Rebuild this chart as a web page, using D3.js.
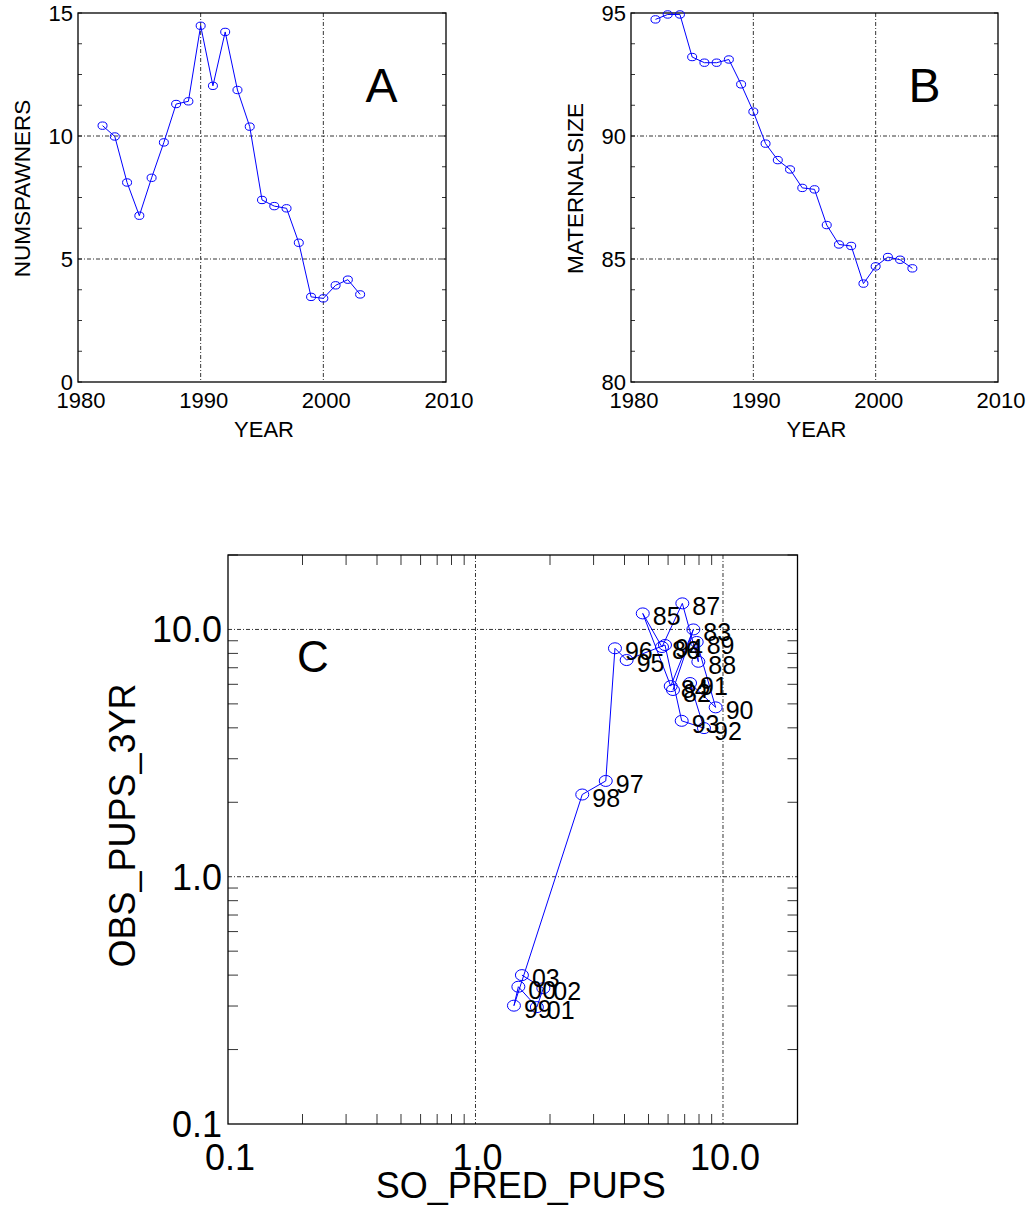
<!DOCTYPE html>
<html><head><meta charset="utf-8">
<script src="https://cdn.jsdelivr.net/npm/d3@7"></script>
<style>body{margin:0;background:#fff}svg{display:block}text{font-family:"Liberation Sans",Arial,Helvetica,sans-serif;fill:#000}</style>
</head><body><svg id="c" width="1032" height="1220"></svg>
<script>
// ---- data ----
const years = [1982,1983,1984,1985,1986,1987,1988,1989,1990,1991,1992,1993,1994,1995,1996,1997,1998,1999,2000,2001,2002,2003];
const numSpawners = [10.42,9.98,8.11,6.76,8.30,9.74,11.30,11.41,14.48,12.04,14.23,11.87,10.38,7.40,7.15,7.06,5.66,3.46,3.40,3.93,4.16,3.56];
const maternalSize = [94.74,94.94,94.94,93.21,92.98,92.98,93.11,92.10,90.99,89.69,89.02,88.64,87.89,87.83,86.38,85.59,85.53,84.00,84.70,85.08,84.97,84.62];
const soPredPups = [6.28,7.59,6.15,4.74,5.67,6.85,7.95,7.83,9.34,7.36,8.38,6.81,5.83,4.08,3.66,3.36,2.70,1.43,1.49,1.77,1.88,1.54];
const obsPups3yr = [5.69,10.0,5.90,11.61,8.49,12.75,7.40,8.90,4.84,6.07,3.99,4.27,8.65,7.52,8.39,2.44,2.15,0.301,0.359,0.297,0.354,0.40];
const yearTicks = [1980,1990,2000,2010];
const spawnerTicks = [0,5,10,15];
const sizeTicks = [80,85,90,95];
const logTicks = [0.1,1,10];
const logTickLabels = ["0.1","1.0","10.0"];

const svg = d3.select("#c");
const blue = "#0000ff";
const gridDash = "4,2,1,2";

function linearPanel(o){
  const g = svg.append("g");
  const x = d3.scaleLinear().domain([1980,2010]).range([o.left,o.left+o.w]);
  const y = d3.scaleLinear().domain(o.ydom).range([o.top+o.h,o.top]);
  yearTicks.slice(1,-1).forEach(t=>g.append("line").attr("x1",x(t)).attr("x2",x(t)).attr("y1",o.top).attr("y2",o.top+o.h)
    .attr("stroke","#000").attr("stroke-width",0.8).attr("stroke-dasharray",gridDash));
  o.yt.slice(1,-1).forEach(t=>g.append("line").attr("x1",o.left).attr("x2",o.left+o.w).attr("y1",y(t)).attr("y2",y(t))
    .attr("stroke","#000").attr("stroke-width",0.8).attr("stroke-dasharray",gridDash));
  const step=(o.yt[1]-o.yt[0])/4;
  d3.range(o.ydom[0],o.ydom[1]+0.001,step).forEach(t=>{
    g.append("line").attr("x1",o.left).attr("x2",o.left+4).attr("y1",y(t)).attr("y2",y(t)).attr("stroke","#000").attr("stroke-width",0.8);
    g.append("line").attr("x1",o.left+o.w).attr("x2",o.left+o.w-4).attr("y1",y(t)).attr("y2",y(t)).attr("stroke","#000").attr("stroke-width",0.8);
  });
  g.append("rect").attr("x",o.left).attr("y",o.top).attr("width",o.w).attr("height",o.h).attr("fill","none").attr("stroke","#000").attr("stroke-width",1.3);
  yearTicks.forEach(t=>g.append("text").attr("x",x(t)+3).attr("y",o.top+o.h+26).attr("text-anchor","middle").attr("font-size",22).text(t));
  o.yt.forEach(t=>g.append("text").attr("x",o.left-5).attr("y",y(t)+8).attr("text-anchor","end").attr("font-size",22).text(t));
  g.append("text").attr("x",o.left+o.w/2+2).attr("y",437).attr("text-anchor","middle").attr("font-size",22).text("YEAR");
  g.append("text").attr("transform",`translate(${o.left-o.ylabOff},${o.top+o.h/2-9}) rotate(-90)`).attr("text-anchor","middle").attr("font-size",22.5).text(o.ylab);
  const pts = years.map((yr,i)=>[x(yr),y(o.vals[i])]);
  g.append("path").attr("d",d3.line()(pts)).attr("fill","none").attr("stroke",blue).attr("stroke-width",1);
  g.selectAll(null).data(pts).enter().append("ellipse").attr("cx",d=>d[0]).attr("cy",d=>d[1]).attr("rx",4.5).attr("ry",3.7)
    .attr("fill","none").attr("stroke",blue).attr("stroke-width",1);
  g.append("text").attr("x",o.left+o.w*o.letterX).attr("y",o.top+o.h*0.24).attr("text-anchor","middle").attr("font-size",48).text(o.letter);
}

linearPanel({left:78,top:13,w:368,h:369,ydom:[0,15],yt:spawnerTicks,vals:numSpawners,ylab:"NUMSPAWNERS",ylabOff:48,letter:"A",letterX:0.825});
linearPanel({left:631,top:13,w:367,h:369,ydom:[80,95],yt:sizeTicks,vals:maternalSize,ylab:"MATERNALSIZE",ylabOff:48,letter:"B",letterX:0.80});

// ---- panel C (log-log) ----
(function(){
  const o={left:228,top:555,w:569.5,h:569};
  const g=svg.append("g");
  const x=d3.scaleLog().domain([0.1,20]).range([o.left,o.left+o.w]);
  const y=d3.scaleLog().domain([0.1,20]).range([o.top+o.h,o.top]);
  [1,10].forEach(t=>{
    g.append("line").attr("x1",x(t)).attr("x2",x(t)).attr("y1",o.top).attr("y2",o.top+o.h).attr("stroke","#000").attr("stroke-width",0.8).attr("stroke-dasharray",gridDash);
    g.append("line").attr("x1",o.left).attr("x2",o.left+o.w).attr("y1",y(t)).attr("y2",y(t)).attr("stroke","#000").attr("stroke-width",0.8).attr("stroke-dasharray",gridDash);
  });
  const minors=[];
  [0.1,1,10].forEach(d=>d3.range(2,10).forEach(m=>{const v=d*m; if(v<=20) minors.push(v);}));
  const tl=10;
  minors.forEach(v=>{
    g.append("line").attr("x1",x(v)).attr("x2",x(v)).attr("y1",o.top+o.h).attr("y2",o.top+o.h-tl).attr("stroke","#000").attr("stroke-width",0.8);
    g.append("line").attr("x1",x(v)).attr("x2",x(v)).attr("y1",o.top).attr("y2",o.top+tl).attr("stroke","#000").attr("stroke-width",0.8);
    g.append("line").attr("y1",y(v)).attr("y2",y(v)).attr("x1",o.left).attr("x2",o.left+tl).attr("stroke","#000").attr("stroke-width",0.8);
    g.append("line").attr("y1",y(v)).attr("y2",y(v)).attr("x1",o.left+o.w).attr("x2",o.left+o.w-tl).attr("stroke","#000").attr("stroke-width",0.8);
  });
  g.append("rect").attr("x",o.left).attr("y",o.top).attr("width",o.w).attr("height",o.h).attr("fill","none").attr("stroke","#000").attr("stroke-width",1.3);
  logTicks.forEach((t,i)=>{
    g.append("text").attr("x",x(t)+2).attr("y",o.top+o.h+46).attr("text-anchor","middle").attr("font-size",36).text(logTickLabels[i]);
    g.append("text").attr("x",o.left-6).attr("y",y(t)+13).attr("text-anchor","end").attr("font-size",36).text(logTickLabels[i]);
  });
  g.append("text").attr("x",o.left+o.w/2+8).attr("y",1198).attr("text-anchor","middle").attr("font-size",36).text("SO_PRED_PUPS");
  g.append("text").attr("transform",`translate(${o.left-93},${o.top+o.h/2-14}) rotate(-90)`).attr("text-anchor","middle").attr("font-size",36).text("OBS_PUPS_3YR");
  g.append("text").attr("x",o.left+o.w*0.149).attr("y",o.top+o.h*0.206).attr("text-anchor","middle").attr("font-size",44).text("C");
  const pts=soPredPups.map((v,i)=>[x(v),y(obsPups3yr[i])]);
  g.append("path").attr("d",d3.line()(pts)).attr("fill","none").attr("stroke",blue).attr("stroke-width",1);
  g.selectAll(null).data(pts).enter().append("ellipse").attr("cx",d=>d[0]).attr("cy",d=>d[1]).attr("rx",6.5).attr("ry",5.5)
    .attr("fill","none").attr("stroke",blue).attr("stroke-width",1);
  g.selectAll(null).data(pts).enter().append("text").attr("x",d=>d[0]+10).attr("y",d=>d[1]+12).attr("font-size",25)
    .text((d,i)=>String(years[i]%100).padStart(2,"0"));
})();
</script></body></html>
